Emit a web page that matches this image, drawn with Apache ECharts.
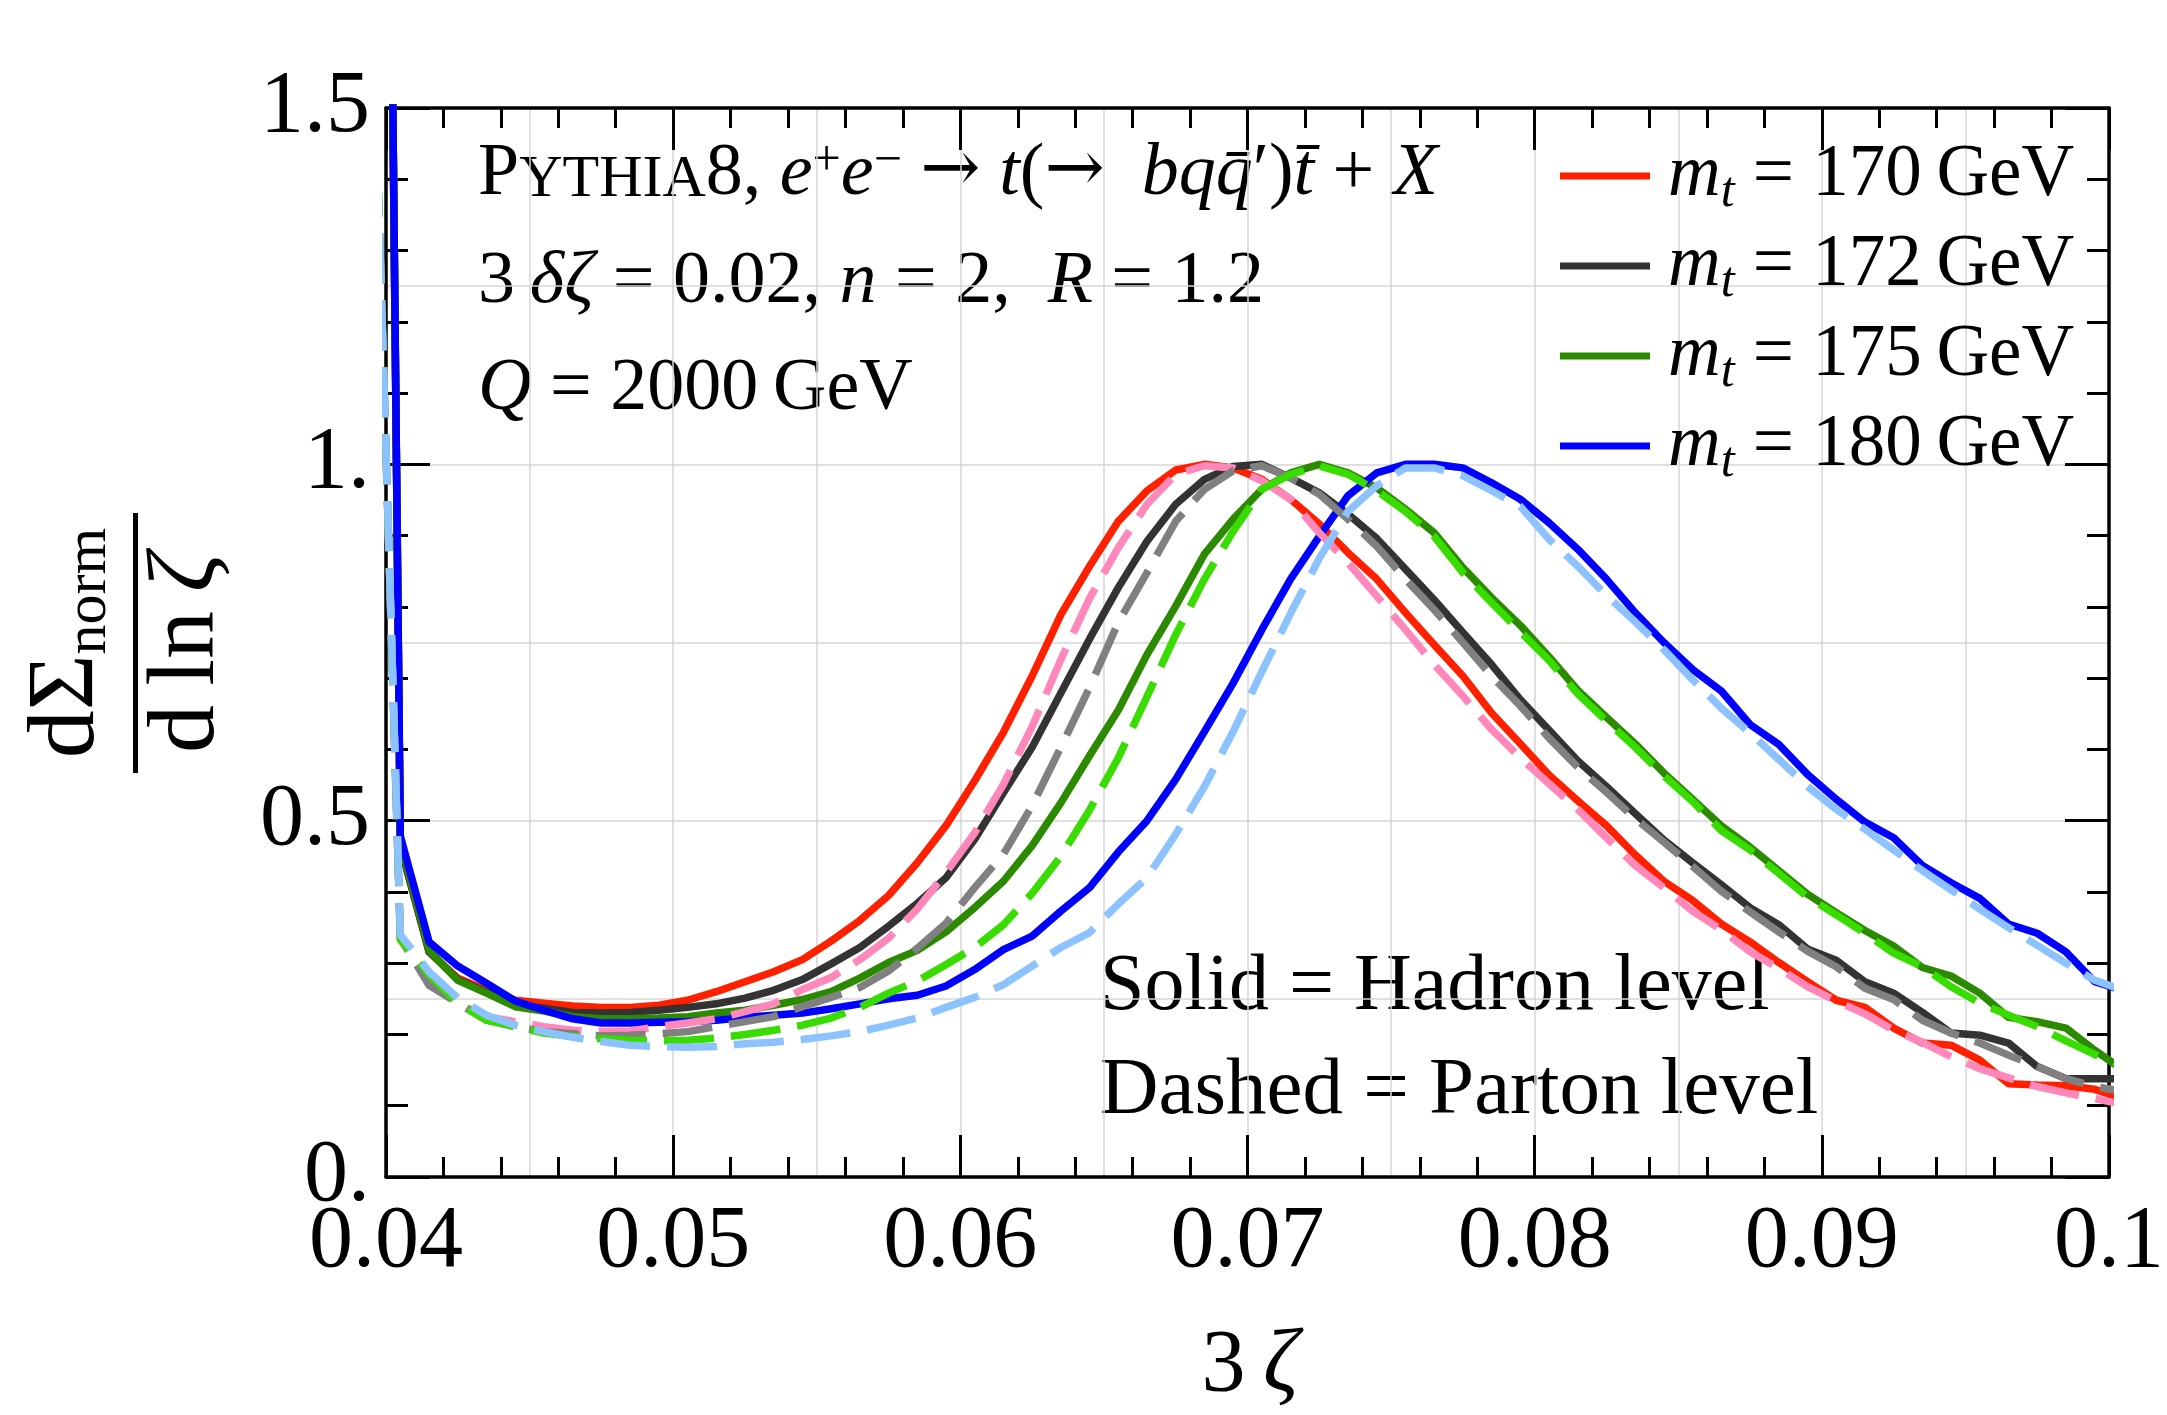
<!DOCTYPE html>
<html>
<head>
<meta charset="utf-8">
<title>Top mass jet shape</title>
<script src="https://cdn.jsdelivr.net/npm/echarts@6/dist/echarts.min.js"></script>
<style>
  html, body { margin: 0; padding: 0; background: #fff; }
  #chart { width: 2167px; height: 1415px; }
</style>
</head>
<body>
<div id="chart"></div>
<script>
// bin centres of 3*zeta
const zeta3 = [0.0395, 0.0405, 0.0415, 0.0425, 0.0435, 0.0445, 0.0455, 0.0465, 0.0475, 0.0485,
  0.0495, 0.0505, 0.0515, 0.0525, 0.0535, 0.0545, 0.0555, 0.0565, 0.0575, 0.0585,
  0.0595, 0.0605, 0.0615, 0.0625, 0.0635, 0.0645, 0.0655, 0.0665, 0.0675, 0.0685,
  0.0695, 0.0705, 0.0715, 0.0725, 0.0735, 0.0745, 0.0755, 0.0765, 0.0775, 0.0785,
  0.0795, 0.0805, 0.0815, 0.0825, 0.0835, 0.0845, 0.0855, 0.0865, 0.0875, 0.0885,
  0.0895, 0.0905, 0.0915, 0.0925, 0.0935, 0.0945, 0.0955, 0.0965, 0.0975, 0.0985,
  0.0995, 0.1005];

// hadron level (solid)
const hadron170 = [4.4, 0.465, 0.316, 0.279, 0.262, 0.248, 0.244, 0.240, 0.238, 0.238, 0.241, 0.248, 0.260, 0.274, 0.288, 0.305, 0.331, 0.360, 0.395, 0.441, 0.493, 0.556, 0.624, 0.703, 0.789, 0.857, 0.920, 0.963, 0.992, 1.000, 0.995, 0.979, 0.951, 0.916, 0.876, 0.839, 0.792, 0.747, 0.703, 0.651, 0.608, 0.564, 0.528, 0.493, 0.452, 0.415, 0.388, 0.355, 0.330, 0.301, 0.274, 0.248, 0.238, 0.209, 0.188, 0.185, 0.164, 0.131, 0.129, 0.128, 0.123, 0.110];
const hadron172 = [4.4, 0.465, 0.316, 0.277, 0.259, 0.242, 0.237, 0.231, 0.230, 0.231, 0.234, 0.238, 0.243, 0.251, 0.262, 0.277, 0.299, 0.322, 0.352, 0.384, 0.420, 0.474, 0.539, 0.603, 0.679, 0.755, 0.827, 0.892, 0.944, 0.979, 0.997, 1.000, 0.981, 0.960, 0.930, 0.896, 0.853, 0.810, 0.764, 0.719, 0.670, 0.627, 0.584, 0.548, 0.510, 0.473, 0.441, 0.410, 0.378, 0.354, 0.320, 0.304, 0.274, 0.258, 0.231, 0.202, 0.199, 0.188, 0.155, 0.138, 0.138, 0.138];
const hadron175 = [4.4, 0.470, 0.318, 0.276, 0.258, 0.239, 0.233, 0.225, 0.222, 0.222, 0.223, 0.225, 0.230, 0.234, 0.241, 0.249, 0.260, 0.279, 0.301, 0.318, 0.344, 0.378, 0.415, 0.465, 0.525, 0.591, 0.655, 0.733, 0.801, 0.874, 0.923, 0.965, 0.988, 1.000, 0.988, 0.967, 0.937, 0.904, 0.855, 0.813, 0.774, 0.730, 0.683, 0.645, 0.608, 0.567, 0.530, 0.493, 0.463, 0.430, 0.397, 0.371, 0.346, 0.324, 0.294, 0.282, 0.258, 0.224, 0.218, 0.209, 0.178, 0.150];
const hadron180 = [4.4, 0.478, 0.330, 0.296, 0.272, 0.247, 0.234, 0.222, 0.216, 0.216, 0.217, 0.218, 0.220, 0.224, 0.227, 0.230, 0.236, 0.243, 0.250, 0.255, 0.268, 0.291, 0.319, 0.338, 0.373, 0.406, 0.456, 0.500, 0.558, 0.625, 0.693, 0.768, 0.839, 0.899, 0.956, 0.988, 1.000, 1.000, 0.995, 0.974, 0.951, 0.918, 0.881, 0.839, 0.792, 0.750, 0.712, 0.682, 0.635, 0.607, 0.565, 0.530, 0.498, 0.476, 0.437, 0.413, 0.391, 0.355, 0.342, 0.316, 0.274, 0.262];

// parton level (dashed)
const parton170 = [1.7, 0.333, 0.276, 0.244, 0.225, 0.218, 0.211, 0.206, 0.204, 0.205, 0.211, 0.216, 0.222, 0.232, 0.243, 0.263, 0.280, 0.305, 0.335, 0.376, 0.427, 0.483, 0.551, 0.632, 0.726, 0.812, 0.883, 0.944, 0.986, 0.998, 0.995, 0.977, 0.951, 0.904, 0.862, 0.815, 0.768, 0.719, 0.675, 0.628, 0.588, 0.552, 0.516, 0.476, 0.437, 0.406, 0.373, 0.347, 0.316, 0.293, 0.267, 0.247, 0.229, 0.206, 0.189, 0.169, 0.152, 0.139, 0.127, 0.118, 0.110, 0.102];
const parton172 = [1.7, 0.335, 0.269, 0.244, 0.220, 0.211, 0.204, 0.201, 0.198, 0.199, 0.201, 0.204, 0.211, 0.218, 0.225, 0.239, 0.252, 0.266, 0.289, 0.321, 0.356, 0.406, 0.453, 0.521, 0.603, 0.687, 0.778, 0.848, 0.920, 0.965, 0.991, 0.998, 0.981, 0.958, 0.923, 0.885, 0.839, 0.796, 0.750, 0.703, 0.661, 0.616, 0.575, 0.540, 0.503, 0.470, 0.436, 0.401, 0.372, 0.344, 0.317, 0.295, 0.265, 0.249, 0.220, 0.202, 0.188, 0.171, 0.155, 0.138, 0.127, 0.120];
const parton175 = [1.7, 0.333, 0.284, 0.244, 0.220, 0.211, 0.202, 0.197, 0.194, 0.192, 0.191, 0.192, 0.195, 0.200, 0.206, 0.213, 0.223, 0.238, 0.258, 0.275, 0.298, 0.322, 0.354, 0.398, 0.450, 0.515, 0.588, 0.674, 0.761, 0.839, 0.906, 0.965, 0.986, 0.998, 0.986, 0.963, 0.934, 0.899, 0.848, 0.806, 0.765, 0.725, 0.678, 0.640, 0.603, 0.563, 0.527, 0.486, 0.459, 0.426, 0.393, 0.368, 0.342, 0.314, 0.295, 0.267, 0.244, 0.227, 0.211, 0.191, 0.172, 0.155];
const parton180 = [1.7, 0.340, 0.288, 0.251, 0.227, 0.213, 0.204, 0.196, 0.190, 0.185, 0.183, 0.182, 0.183, 0.187, 0.189, 0.193, 0.198, 0.204, 0.213, 0.223, 0.238, 0.252, 0.270, 0.296, 0.322, 0.343, 0.383, 0.420, 0.481, 0.548, 0.625, 0.709, 0.791, 0.868, 0.934, 0.970, 0.995, 0.995, 0.984, 0.963, 0.941, 0.895, 0.857, 0.816, 0.779, 0.740, 0.698, 0.658, 0.623, 0.586, 0.548, 0.516, 0.488, 0.459, 0.430, 0.403, 0.376, 0.350, 0.325, 0.300, 0.276, 0.262];

const masses = [170, 172, 175, 180];
const xTickLabels = ['0.04', '0.05', '0.06', '0.07', '0.08', '0.09', '0.1'];
const yTickLabels = ['0.', '0.5', '1.', '1.5'];

const serif = '"Liberation Serif", "Times New Roman", serif';
const chart = echarts.init(document.getElementById('chart'));

function lineSeries(name, vals, color, dashed) {
  return {
    name: name,
    type: 'line',
    data: zeta3.map((x, i) => [x, vals[i]]),
    showSymbol: false,
    symbol: 'none',
    color: color,
    itemStyle: { color: color },
    lineStyle: { color: color, width: 7.5, type: dashed ? [50, 17] : 'solid', cap: 'butt', join: 'round' },
    z: dashed ? 4 : 3,
    silent: true
  };
}

const names = masses.map(m => 'm_t = ' + m + ' GeV');
const series = [
  lineSeries(names[0], hadron170, '#ff2000', false),
  lineSeries(names[1], hadron172, '#333333', false),
  lineSeries(names[2], hadron175, '#2b8a00', false),
  lineSeries(names[3], hadron180, '#0000ff', false),
  lineSeries('parton 170', parton170, '#ff87b9', true),
  lineSeries('parton 172', parton172, '#808080', true),
  lineSeries('parton 175', parton175, '#38dc00', true),
  lineSeries('parton 180', parton180, '#8cc2ff', true)
];

const tickStyle = { color: '#000', width: 3 };
function frameX(pos, labels) {
  return {
    type: 'value', min: 0.04, max: 0.1, interval: 0.01, position: pos,
    axisLine: { show: true, onZero: false, lineStyle: { color: '#000', width: 3.5 } },
    axisTick: { show: true, inside: true, length: 42, lineStyle: tickStyle },
    minorTick: { show: true, splitNumber: 5, length: 20, lineStyle: tickStyle },
    splitLine: { show: false },
    axisLabel: labels ? {
      fontFamily: serif, fontSize: 88, color: '#000', margin: 22,
      formatter: v => xTickLabels[Math.round((v - 0.04) / 0.01)]
    } : { show: false }
  };
}
function frameY(pos, labels) {
  return {
    type: 'value', min: 0, max: 1.5, interval: 0.5, position: pos,
    axisLine: { show: true, onZero: false, lineStyle: { color: '#000', width: 3.5 } },
    axisTick: { show: true, inside: true, length: 44, lineStyle: tickStyle },
    minorTick: { show: true, splitNumber: 5, length: 22, lineStyle: tickStyle },
    splitLine: { show: false },
    axisLabel: labels ? {
      fontFamily: serif, fontSize: 88, color: '#000', margin: 16, padding: [0, 0, 14, 0],
      formatter: v => yTickLabels[Math.round(v / 0.5)]
    } : { show: false }
  };
}
const gridLine = { show: true, lineStyle: { color: '#d6d6d6', width: 1.5 } };

const tokens = (size, lh) => ({
  rm: { fontFamily: serif, fontSize: size, fill: '#000', color: '#000', lineHeight: lh },
  it: { fontFamily: serif, fontSize: size, fontStyle: 'italic', fill: '#000', color: '#000', lineHeight: lh }
});

const textRich = Object.assign(tokens(74, 100), {
  sc: { fontFamily: serif, fontSize: 60, fill: '#000', lineHeight: 100, padding: [10, 0, 0, 0] },
  sup: { fontFamily: serif, fontSize: 50, fill: '#000', lineHeight: 100, padding: [0, 0, 26, 0] },
  ar: { fontFamily: '"DejaVu Serif", serif', fontSize: 72, fill: '#000', lineHeight: 100, padding: [0, 0, 6, 0] }
});
function label(x, y, text, rich, size) {
  return {
    type: 'text', x: x, y: y, silent: true,
    style: { text: text, rich: rich, fontFamily: serif, fontSize: size, fill: '#000', align: 'left', verticalAlign: 'middle' }
  };
}

const yTitleRich = Object.assign(tokens(96, 120), {
  sub: { fontFamily: serif, fontSize: 60, fill: '#000', lineHeight: 120, padding: [44, 0, 0, 0] }
});

chart.setOption({
  animation: false,
  backgroundColor: '#fff',
  grid: { left: 386, right: 52, top: 108, bottom: 238, containLabel: false },
  xAxis: [
    frameX('bottom', true),
    frameX('top', false),
    { type: 'value', min: 0.04, max: 0.1, interval: 0.005, position: 'bottom',
      axisLine: { show: false }, axisTick: { show: false }, axisLabel: { show: false }, splitLine: gridLine }
  ],
  yAxis: [
    frameY('left', true),
    frameY('right', false),
    { type: 'value', min: 0, max: 1.5, interval: 0.25, position: 'left',
      axisLine: { show: false }, axisTick: { show: false }, axisLabel: { show: false }, splitLine: gridLine }
  ],
  legend: {
    data: names,
    orient: 'vertical',
    left: 1560,
    top: 131,
    padding: 0,
    itemGap: 0,
    itemWidth: 90,
    itemHeight: 7,
    icon: 'rect',
    selectedMode: false,
    formatter: name => '{it|m}{sub|t}{rm| = ' + name.match(/\d+/)[0] + '\u2009GeV}',
    textStyle: {
      fontFamily: serif, fontSize: 73, color: '#000', lineHeight: 90, padding: [0, 0, 0, 13],
      rich: Object.assign(tokens(73, 90), {
        sub: { fontFamily: serif, fontSize: 50, fontStyle: 'italic', color: '#000', lineHeight: 90, padding: [34, 0, 0, 0] }
      })
    }
  },
  graphic: [
    label(478, 175, '{rm|P}{sc|YTHIA}{rm|8, }{it|e}{sup|+}{it|e}{sup|\u2212}{rm| }{ar|\u2192}{rm| }{it|t}{rm|(}{ar|\u2192}{rm|  }{it|bq}{it|q\u0304}{rm|\u2032)}{it|t\u0304}{rm| + }{it|X}', textRich, 74),
    label(478, 283, '{rm|3\u2009}{it|\u03b4\u03b6}{rm| = 0.02, }{it|n}{rm| = 2,  }{it|R}{rm| = 1.2}', textRich, 74),
    label(478, 390, '{it|Q}{rm| = 2000\u2009GeV}', textRich, 74),
    label(1100, 988, '{rm|Solid = Hadron level}', tokens(80, 100), 80),
    label(1100, 1092, '{rm|Dashed = Parton level}', tokens(81, 100), 81),
    {
      type: 'text', x: 1250, y: 1367, silent: true,
      style: { text: '{rm|3\u2009}{it|\u03b6}', rich: tokens(88, 110), fontFamily: serif, fontSize: 88, fill: '#000', align: 'center', verticalAlign: 'middle' }
    },
    {
      type: 'group', x: 135.5, y: 643, rotation: Math.PI / 2, silent: true,
      children: [
        { type: 'rect', shape: { x: -130, y: -2.5, width: 260, height: 5 }, style: { fill: '#000' } },
        { type: 'text', x: 0, y: -68,
          style: { text: '{rm|d\u03a3}{sub|norm}', rich: yTitleRich, fontFamily: serif, fontSize: 96, fill: '#000', align: 'center', verticalAlign: 'middle' } },
        { type: 'text', x: -10, y: 52,
          style: { text: '{rm|d\u2009ln\u2009}{it|\u03b6}', rich: yTitleRich, fontFamily: serif, fontSize: 96, fill: '#000', align: 'center', verticalAlign: 'middle' } }
      ]
    }
  ],
  series: series
});
</script>
</body>
</html>
